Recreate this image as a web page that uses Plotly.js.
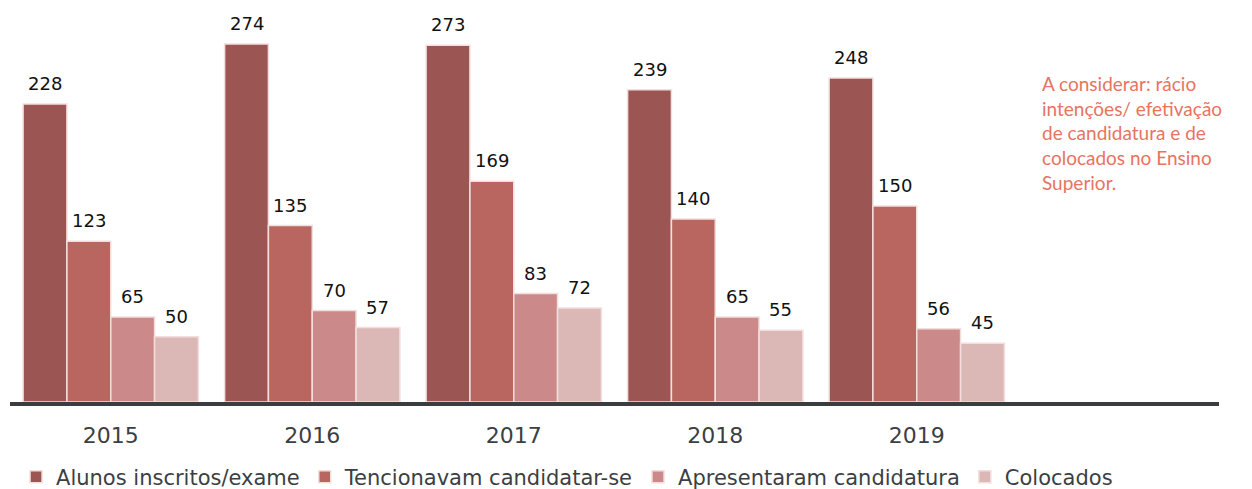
<!DOCTYPE html>
<html><head><meta charset="utf-8">
<script src="https://cdn.plot.ly/plotly-3.0.1.min.js"></script>
<style>html,body{margin:0;padding:0;background:#fff}#c{width:1252px;height:489px}</style>
</head><body><div id="c"></div>
<script>
const years = ["2015","2016","2017","2018","2019"];
const axisCategories = ["2015","2016","2017","2018","2019",""];
const seriesNames = ["Alunos inscritos/exame","Tencionavam candidatar-se","Apresentaram candidatura","Colocados"];
const inscritos = [228,274,273,239,248];
const tencionavam = [123,135,169,140,150];
const apresentaram = [65,70,83,65,56];
const colocados = [50,57,72,55,45];
const colors = ["#9B5552","#B8665F","#CB8A89","#DBB8B6"];
const noteText = "A considerar: rácio<br>intenções/ efetivação<br>de candidatura e de<br>colocados no Ensino<br>Superior.";

const allSeries = [inscritos, tencionavam, apresentaram, colocados];
const bargap = 0.13;
const traces = allSeries.map((vals, i) => ({
  type: "bar", x: years, y: vals, name: seriesNames[i],
  marker: {color: colors[i], line: {color: "#F3DEDD", width: 1.5}},
  hoverinfo: "x+y"
}));

const annotations = [];
const w = (1 - bargap) / allSeries.length;
allSeries.forEach((vals, si) => {
  vals.forEach((v, gi) => {
    annotations.push({
      x: gi + (si - (allSeries.length - 1) / 2) * w, xref: "x",
      y: v, yref: "y", yanchor: "bottom", yshift: 8,
      text: String(v), showarrow: false,
      font: {family: "DejaVu Sans", size: 18, color: "#111"}
    });
  });
});
annotations.push({
  x: 0.852, xref: "paper", y: 0.848, yref: "paper", xanchor: "left", yanchor: "top",
  align: "left", text: noteText, showarrow: false,
  font: {family: "Lato", size: 19, color: "#E8735F"}
});

const layout = {
  width: 1252, height: 489,
  margin: {l: 10, r: 33, t: 10, b: 87, autoexpand: false},
  paper_bgcolor: "#fff", plot_bgcolor: "#fff",
  barmode: "group", bargap: bargap, bargroupgap: 0,
  showlegend: true,
  legend: {orientation: "h", x: 0.005, xanchor: "left", y: -0.139, yanchor: "top",
    font: {family: "DejaVu Sans", size: 21, color: "#3b3f43"}, traceorder: "normal"},
  xaxis: {type: "category", categoryorder: "array", categoryarray: axisCategories,
    range: [-0.5, 5.5], showline: true, linecolor: "#3a3d40", linewidth: 4,
    ticks: "", showgrid: false, zeroline: false, automargin: false, ticklabelstandoff: 11,
    tickfont: {family: "DejaVu Sans", size: 22, color: "#3b3f43"}},
  yaxis: {range: [0, 300], visible: false, showgrid: false, zeroline: false},
  annotations: annotations
};
Plotly.newPlot("c", traces, layout, {displayModeBar: false, staticPlot: true});
</script></body></html>
